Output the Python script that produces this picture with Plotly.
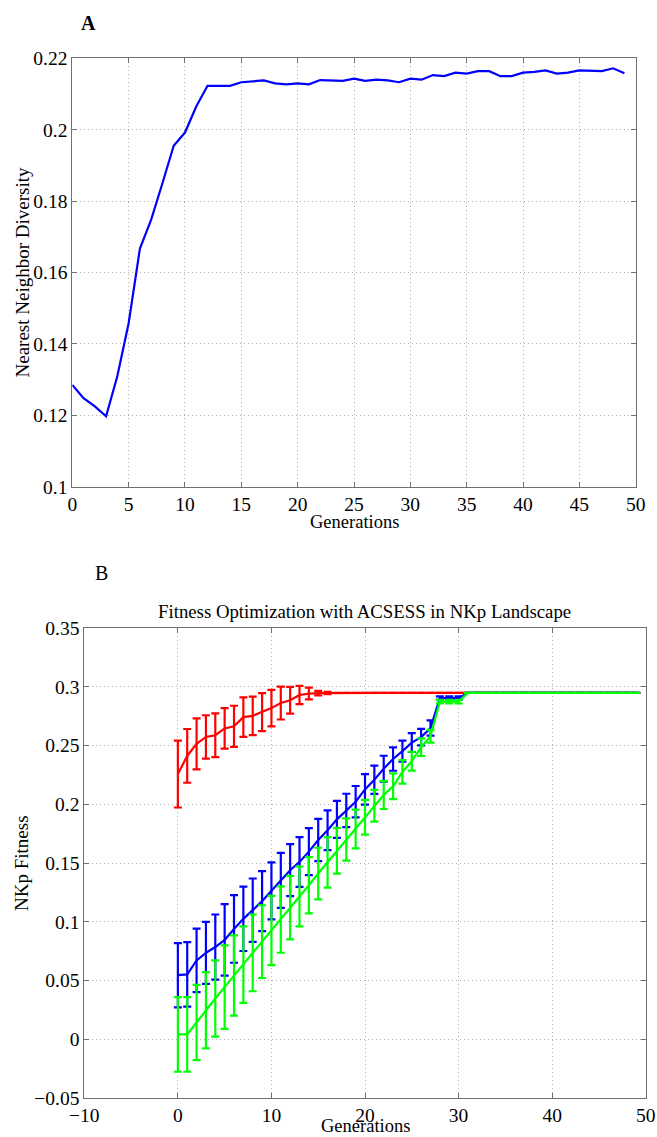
import plotly.graph_objects as go

W, H = 657, 1137

# ---------------- Panel A data ----------------
gens_a = list(range(50))
diversity = [0.1285, 0.1248, 0.1225, 0.1197, 0.1310, 0.1458, 0.1667, 0.1748, 0.1850, 0.1955,
             0.1992, 0.2065, 0.2123, 0.2123, 0.2123, 0.2133, 0.2136, 0.2138, 0.2130, 0.2127,
             0.2130, 0.2127, 0.2139, 0.2137, 0.2137, 0.2143, 0.2137, 0.2140, 0.2138, 0.2133,
             0.2143, 0.2140, 0.2153, 0.2150, 0.2160, 0.2157, 0.2164, 0.2164, 0.2150, 0.2150,
             0.2160, 0.2162, 0.2166, 0.2157, 0.2160, 0.2166, 0.2164, 0.2164, 0.2172, 0.2158]

# ---------------- Panel B data ----------------
gens_b = list(range(50))
red_mean = [0.2258, 0.2413, 0.2515, 0.2574, 0.2589, 0.2647, 0.2665, 0.2743, 0.2754, 0.2785,
            0.2820, 0.2863, 0.2887, 0.2932, 0.2944, 0.2948, 0.2949] + [0.2949] * 33
red_err = [0.0285, 0.0229, 0.0217, 0.0185, 0.0186, 0.0173, 0.0175, 0.0169, 0.0164, 0.0162,
           0.0155, 0.0140, 0.0114, 0.0078, 0.0050, 0.0019, 0.0010] + [0.0] * 33

blue_mean = [0.0544, 0.0551, 0.0670, 0.0734, 0.0784, 0.0845, 0.0938, 0.1024, 0.1098, 0.1175,
             0.1263, 0.1352, 0.1439, 0.1509, 0.1597, 0.1696, 0.1779, 0.1872, 0.1948, 0.2022,
             0.2127, 0.2209, 0.2304, 0.2386, 0.2453, 0.2526, 0.2573, 0.2650, 0.2905, 0.2905,
             0.2905] + [0.2949] * 19
blue_err = [0.0274, 0.0275, 0.0270, 0.0264, 0.0277, 0.0305, 0.0288, 0.0274, 0.0270, 0.0255,
            0.0243, 0.0235, 0.0222, 0.0212, 0.0200, 0.0180, 0.0169, 0.0158, 0.0142, 0.0134,
            0.0130, 0.0120, 0.0110, 0.0100, 0.0090, 0.0080, 0.0070, 0.0065, 0.0015, 0.0015,
            0.0015] + [0.0] * 19

green_mean = [0.0039, 0.0039, 0.0141, 0.0245, 0.0345, 0.0442, 0.0542, 0.0634, 0.0734, 0.0830,
              0.0925, 0.1018, 0.1120, 0.1215, 0.1310, 0.1410, 0.1505, 0.1605, 0.1700, 0.1790,
              0.1890, 0.1988, 0.2080, 0.2154, 0.2276, 0.2368, 0.2487, 0.2580, 0.2875, 0.2875,
              0.2875] + [0.2949] * 19
green_err = [0.0318, 0.0318, 0.0321, 0.0325, 0.0325, 0.0356, 0.0342, 0.0326, 0.0327, 0.0310,
             0.0295, 0.0283, 0.0270, 0.0255, 0.0240, 0.0220, 0.0215, 0.0195, 0.0180, 0.0165,
             0.0148, 0.0135, 0.0120, 0.0110, 0.0100, 0.0080, 0.0075, 0.0054, 0.0015, 0.0015,
             0.0015] + [0.0] * 19

# tick labels
xa_ticks = [0, 5, 10, 15, 20, 25, 30, 35, 40, 45, 50]
ya_ticks = [0.1, 0.12, 0.14, 0.16, 0.18, 0.2, 0.22]
ya_text = ["0.1", "0.12", "0.14", "0.16", "0.18", "0.2", "0.22"]
xb_ticks = [-10, 0, 10, 20, 30, 40, 50]
xb_text = ["\u221210", "0", "10", "20", "30", "40", "50"]
yb_ticks = [-0.05, 0, 0.05, 0.1, 0.15, 0.2, 0.25, 0.3, 0.35]
yb_text = ["\u22120.05", "0", "0.05", "0.1", "0.15", "0.2", "0.25", "0.3", "0.35"]

FONT = "Liberation Serif, Times New Roman, serif"

fig = go.Figure()

fig.add_trace(go.Scatter(x=gens_a, y=diversity, mode="lines",
                         line=dict(color="#0000FF", width=2.2),
                         xaxis="x", yaxis="y", showlegend=False))

for mean, err, col in [(red_mean, red_err, "#FF0000"),
                       (blue_mean, blue_err, "#0000FF"),
                       (green_mean, green_err, "#00FF00")]:
    fig.add_trace(go.Scatter(x=gens_b, y=mean, mode="lines",
                             line=dict(color=col, width=2.2),
                             error_y=dict(type="data", array=err, visible=True,
                                          color=col, thickness=2.2, width=4),
                             xaxis="x2", yaxis="y2", showlegend=False))

def px2x(p):
    return p / W

def py2y(p):
    return 1 - p / H

axis_common = dict(
    showline=True, linecolor="#707070", linewidth=1, mirror="ticks",
    ticks="inside", ticklen=5, tickcolor="#707070",
    showgrid=True, gridcolor="#b0b0b0", griddash="1px,3px", gridwidth=1,
    zeroline=False, automargin=False,
    tickfont=dict(family=FONT, size=19.5, color="black"),
)

fig.update_layout(
    width=W, height=H,
    margin=dict(l=0, r=0, t=0, b=0),
    paper_bgcolor="white", plot_bgcolor="white",
    xaxis=dict(domain=[px2x(72.3), px2x(635.7)], range=[0, 50],
               tickvals=xa_ticks, anchor="y", ticklabelstandoff=0, **axis_common),
    yaxis=dict(domain=[py2y(486.7), py2y(58.3)], range=[0.1, 0.22],
               tickvals=ya_ticks, ticktext=ya_text, anchor="x", **axis_common),
    xaxis2=dict(domain=[px2x(84.3), px2x(645.7)], range=[-10, 50],
                tickvals=xb_ticks, ticktext=xb_text, anchor="y2", ticklabelstandoff=0, **axis_common),
    yaxis2=dict(domain=[py2y(1097.7), py2y(628.3)], range=[-0.05, 0.35],
                tickvals=yb_ticks, ticktext=yb_text, anchor="x2", **axis_common),
    font=dict(family=FONT, color="black"),
)

ann = [
    dict(text="<b>A</b>", x=px2x(88), y=py2y(23), size=20),
    dict(text="B", x=px2x(101.7), y=py2y(573), size=20),
    dict(text="Generations", x=px2x(354), y=py2y(522), size=18.5),
    dict(text="Generations", x=px2x(365), y=py2y(1126), size=18.5),
    dict(text="Fitness Optimization with ACSESS in NKp Landscape", x=px2x(364), y=py2y(611), size=18.8),
]
for a in ann:
    fig.add_annotation(text=a["text"], x=a["x"], y=a["y"], xref="paper", yref="paper",
                       showarrow=False, xanchor="center", yanchor="middle",
                       font=dict(family=FONT, size=a["size"], color="black"))

for txt, x, y in [("Nearest Neighbor Diversity", 22, 272.5), ("NKp Fitness", 21, 863)]:
    fig.add_annotation(text=txt, x=px2x(x), y=py2y(y), xref="paper", yref="paper",
                       showarrow=False, textangle=-90, xanchor="center", yanchor="middle",
                       font=dict(family=FONT, size=19, color="black"))

fig.write_html("out.html")
